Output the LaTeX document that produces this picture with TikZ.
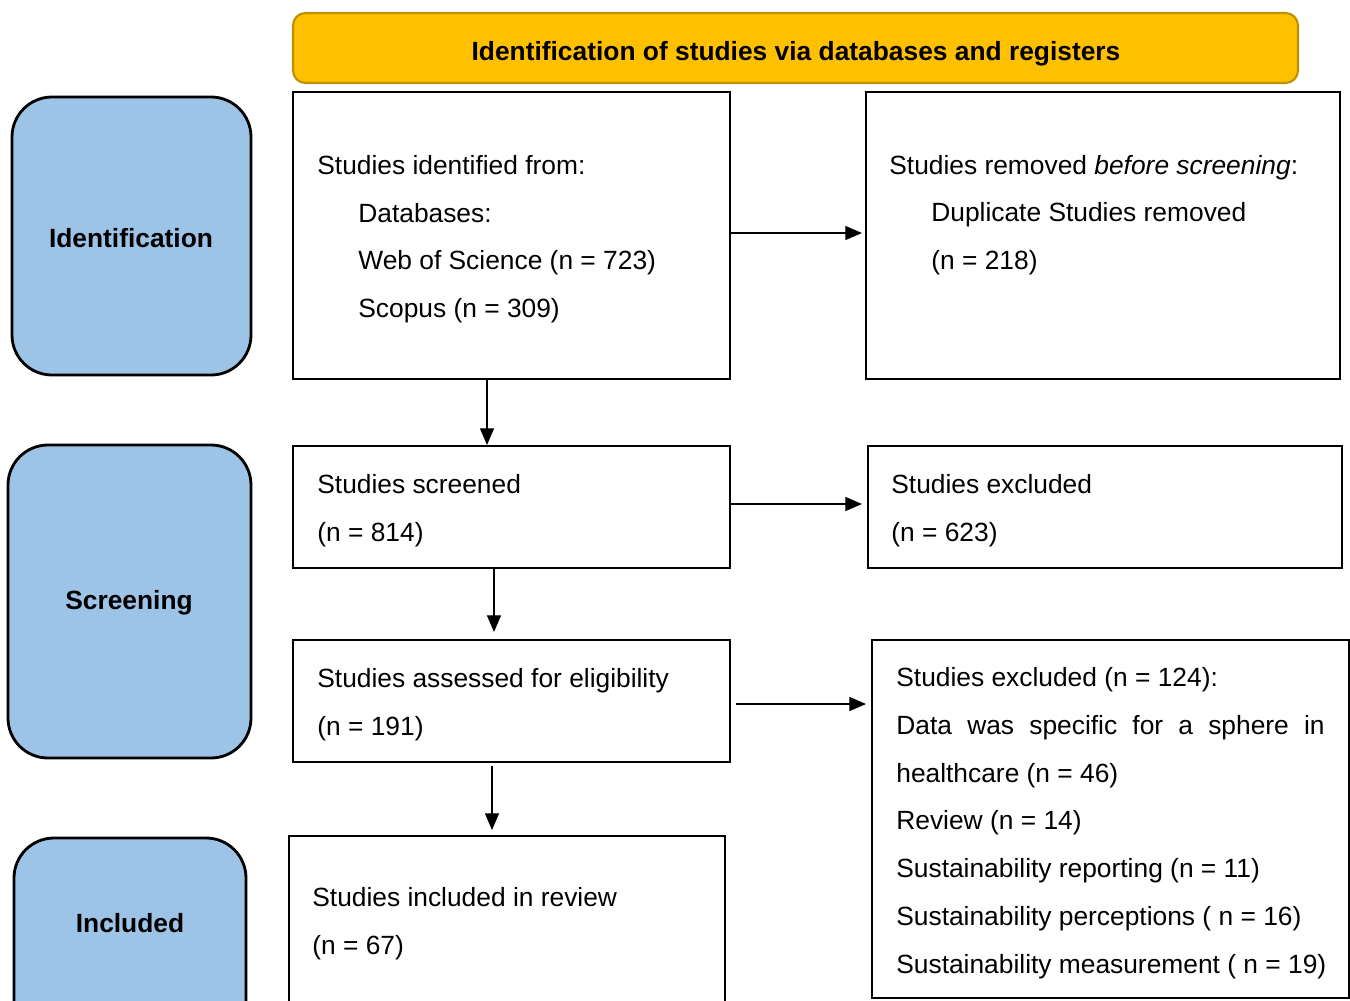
\documentclass[tikz,border=0pt]{standalone}
\usepackage{fontspec}
\setmainfont{Liberation Sans}
\usetikzlibrary{fit,arrows.meta}
\definecolor{bannerfill}{HTML}{FFC000}
\definecolor{bannerline}{HTML}{BF9000}
\definecolor{phasefill}{HTML}{9DC3E6}
\tikzset{
  box/.style={draw=black, line width=1.5pt, inner sep=0pt},
  phase/.style={draw=black, line width=1.6pt, fill=phasefill, rounded corners=0.8cm, inner sep=0pt},
  banner/.style={draw=bannerline, line width=1.2pt, fill=bannerfill, rounded corners=0.25cm, inner sep=0pt},
  txt/.style={anchor=base west, inner sep=0pt, font=\fontsize{15}{18}\selectfont},
  btxt/.style={inner sep=0pt, font=\fontsize{15}{18}\selectfont\bfseries},
  arr/.style={line width=0.7pt, -{Triangle[length=9.5pt,width=8pt]}}
}
\begin{document}
\begin{tikzpicture}[x=0.02cm,y=-0.02cm]
\useasboundingbox (0,0) rectangle (1350,1001);
\clip (0,0) rectangle (1350,1001);
% banner
\node[banner, fit={(293,13) (1298,83)}] (ban) {};
\node[btxt] (bantxt) at (796,54) {Identification of studies via databases and registers};
% phase boxes
\node[phase, fit={(12,97) (251,375)}] (pid) {};
\node[btxt] (pidt) at (131,238) {Identification};
\node[phase, fit={(8,445) (251,758)}] (psc) {};
\node[btxt] (psct) at (129,603) {Screening};
\node[phase, fit={(14,838) (246,1040)}] (pin) {};
\node[btxt] (pint) at (130,923) {Included};
% box 1
\node[box, fit={(293,92) (730,379)}] (b1) {};
\node[txt] (b1a) at (317,174) {Studies identified from:};
\node[txt] (b1b) at (358,222) {Databases:};
\node[txt] (b1c) at (358,269) {Web of Science (n = 723)};
\node[txt] (b1d) at (358,317) {Scopus (n = 309)};
% box 2
\node[box, fit={(866,92) (1340,379)}] (b2) {};
\node[txt] (b2a) at (889,174) {Studies removed \textit{before screening}:};
\node[txt] (b2b) at (931,221) {Duplicate Studies removed};
\node[txt] (b2c) at (931,269) {(n = 218)};
% box 3
\node[box, fit={(293,446) (730,568)}] (b3) {};
\node[txt] (b3a) at (317,493) {Studies screened};
\node[txt] (b3b) at (317,541) {(n = 814)};
% box 4
\node[box, fit={(868,446) (1342,568)}] (b4) {};
\node[txt] (b4a) at (891,493) {Studies excluded};
\node[txt] (b4b) at (891,541) {(n = 623)};
% box 5
\node[box, fit={(293,640) (730,762)}] (b5) {};
\node[txt] (b5a) at (317,687) {Studies assessed for eligibility};
\node[txt] (b5b) at (317,735) {(n = 191)};
% box 6
\node[box, fit={(872,640) (1349,998)}] (b6) {};
\node[txt] (b6a) at (896,686) {Studies excluded (n = 124):};
\node[txt] (b6b) at (896,734) {\makebox[243.8pt][s]{Data was specific for a sphere in}};
\node[txt] (b6c) at (896,782) {healthcare (n = 46)};
\node[txt] (b6d) at (896,829) {Review (n = 14)};
\node[txt] (b6e) at (896,877) {Sustainability reporting (n = 11)};
\node[txt] (b6f) at (896,925) {Sustainability perceptions ( n = 16)};
\node[txt] (b6g) at (896,973) {Sustainability measurement ( n = 19)};
% box 7
\node[box, fit={(289,836) (725,1040)}] (b7) {};
\node[txt] (b7a) at (312,906) {Studies included in review};
\node[txt] (b7b) at (312,954) {(n = 67)};
% arrows
\coordinate (a1e) at (862,233);
\draw[arr] (b1.east |- a1e) -- (a1e);
\coordinate (a2e) at (487,445);
\draw[arr] (b1.south -| a2e) -- (a2e);
\coordinate (a3e) at (862,504);
\draw[arr] (b3.east |- a3e) -- (a3e);
\coordinate (a4e) at (494,632);
\draw[arr] (b3.south -| a4e) -- (a4e);
\coordinate (a5s) at (736,704);
\coordinate (a5e) at (866,704);
\draw[arr] (a5s) -- (a5e);
\coordinate (a6s) at (492,766);
\coordinate (a6e) at (492,830);
\draw[arr] (a6s) -- (a6e);
\end{tikzpicture}
\end{document}
